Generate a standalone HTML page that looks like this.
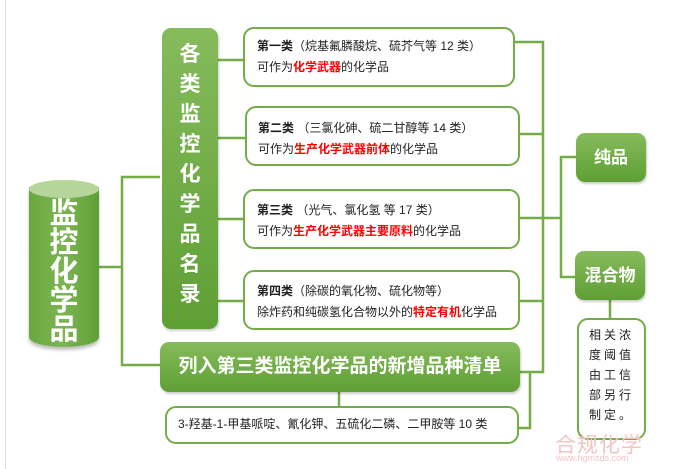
<!DOCTYPE html>
<html><head><meta charset="utf-8"><style>
body{margin:0;width:676px;height:469px;background:#fff;position:relative;overflow:hidden;font-family:"Liberation Sans","Noto Sans CJK SC",sans-serif}
.g{position:absolute;background:linear-gradient(#86bb5c,#5e9f34);border-radius:9px;color:#fff;font-weight:bold;text-align:center;box-shadow:1px 2px 2px rgba(0,0,0,.2)}
.w{position:absolute;background:#fff;border:2.5px solid #74ac48;border-radius:11px;box-sizing:border-box;font-size:12px;color:#222;line-height:21px}
.r{color:#f00;font-weight:bold}
svg{position:absolute;left:0;top:0}
</style></head><body>
<div style="position:absolute;left:5px;top:0;width:1px;height:469px;background:#ddd"></div>
<svg width="676" height="469"><g fill="none" stroke="#74ac48" stroke-width="2.5">
<path d="M99 267H122V177H160M122 267V365H160"/>
<path d="M218 60H243M218 138H245M218 219H243M218 301H243"/>
<path d="M514 42H543V372H520M519 134H543M519 218H561M519 301H543"/>
<path d="M561 270V157H576M561 218V277H575"/>
<path d="M610 300V318M339 392V406M530 372V428H518"/>
</g></svg>
<div style="position:absolute;left:29px;top:187px;width:70px;height:160px;background:linear-gradient(90deg,#6aa83e,#7cb553 50%,#5e9f34);border-radius:0 0 35px 35px/0 0 10px 10px;box-shadow:0 3px 3px rgba(0,0,0,.25)"></div>
<div style="position:absolute;left:29px;top:180px;width:70px;height:18px;background:#b5d59a;border-radius:50%"></div>
<div style="position:absolute;left:29px;top:200px;width:70px;color:#fff;font-weight:bold;font-size:29px;line-height:29px;text-align:center">监<br>控<br>化<br>学<br>品</div>
<div class="g" style="left:162px;top:28px;width:56px;height:301px;font-size:21px;line-height:30px;padding-top:12px;box-sizing:border-box">各<br>类<br>监<br>控<br>化<br>学<br>品<br>名<br>录</div>
<div class="w" style="left:243px;top:27px;width:272px;height:60px;padding:7px 0 0 12px"><b>第一类</b>（烷基氟膦酸烷、硫芥气等 12 类）<br>可作为<span class="r">化学武器</span>的化学品</div>
<div class="w" style="left:245px;top:106px;width:275px;height:60px;padding:10px 0 0 11px"><b>第二类</b> （三氯化砷、硫二甘醇等 14 类）<br>可作为<span class="r">生产化学武器前体</span>的化学品</div>
<div class="w" style="left:243px;top:189px;width:277px;height:60px;padding:9px 0 0 12px"><b>第三类</b> （光气、氯化氢 等 17 类）<br>可作为<span class="r">生产化学武器主要原料</span>的化学品</div>
<div class="w" style="left:243px;top:270px;width:277px;height:60px;padding:9px 0 0 12px"><b>第四类</b>（除碳的氧化物、硫化物等）<br>除炸药和纯碳氢化合物以外的<span class="r">特定有机</span>化学品</div>
<div class="g" style="left:160px;top:342px;width:360px;height:50px;font-size:19px;line-height:50px">列入第三类监控化学品的新增品种清单</div>
<div class="w" style="left:165px;top:406px;width:354px;height:38px;padding:6px 0 0 11px">3-羟基-1-甲基哌啶、氰化钾、五硫化二磷、二甲胺等 10 类</div>
<div class="g" style="left:576px;top:133px;width:70px;height:49px;font-size:17px;line-height:49px">纯品</div>
<div class="g" style="left:575px;top:251px;width:70px;height:49px;font-size:17px;line-height:49px">混合物</div>
<div class="w" style="left:577px;top:318px;width:69px;height:122px;padding:5px 0 0 10px;font-size:12px;line-height:20px;letter-spacing:3px">相关浓<br>度阈值<br>由工信<br>部另行<br>制定。</div>
<div style="position:absolute;left:555px;top:429px;font-size:21px;color:#f3c4c4;letter-spacing:1px">合规化学</div>
<div style="position:absolute;left:556px;top:453px;font-size:9px;color:#f3c4c4">www.hgmsds.com</div>
</body></html>
